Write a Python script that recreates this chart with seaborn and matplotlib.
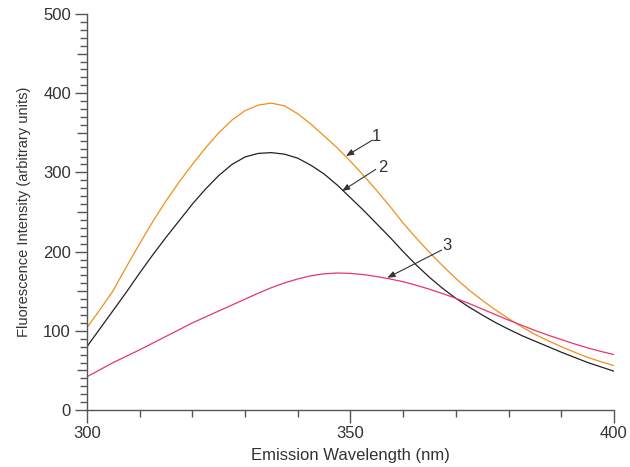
import numpy as np
import pandas as pd
import matplotlib
matplotlib.use("Agg")
import matplotlib.pyplot as plt
import seaborn as sns

# ---- data ----
wavelength = [300, 302.5, 305, 307.5, 310, 312.5, 315, 317.5, 320, 322.5, 325, 327.5,
              330, 332.5, 335, 337.5, 340, 342.5, 345, 347.5, 350, 352.5, 355, 357.5,
              360, 362.5, 365, 367.5, 370, 372.5, 375, 377.5, 380, 382.5, 385, 387.5,
              390, 392.5, 395, 397.5, 400]
curve1 = [104, 127, 151, 181, 210, 238, 264, 288, 310, 331, 350, 366,
          378, 385, 387.5, 384, 374, 361, 346, 331, 314, 296, 277, 257,
          236, 217, 199, 182, 166, 151.5, 138.5, 126.5, 115.5, 105, 95.5, 87.5,
          80, 73, 66.5, 61, 56]
curve2 = [80, 103, 126, 149, 173, 196, 218, 239, 260, 279, 296, 310,
          319.5, 324, 325, 323, 318, 309, 298, 284, 268, 252, 235, 218,
          200, 183, 167.5, 153.5, 141, 130, 120, 110.5, 102, 94, 87, 80,
          73, 66.5, 60, 54.5, 49]
curve3 = [42, 51, 60, 68, 76, 84.5, 93, 101.5, 110, 117.5, 125, 132.5,
          140, 147.5, 154.5, 160.5, 165.5, 169.5, 172, 173, 172.5, 171, 168.5, 165.5,
          162, 157.5, 152.5, 147, 141, 134.5, 127.5, 120.5, 113.5, 107, 100.5, 94.5,
          89, 83.5, 78.5, 74, 70]
series_labels = ["1", "2", "3"]
series_colors = ["#f28e1c", "#222222", "#e6366b"]

# annotation: text position, arrow tail, arrow tip (data coords)
label_xy = [(355.0, 345.1), (356.2, 306.4), (368.25, 208.3)]
arrow_tail = [(354.2, 340.9), (354.8, 303.9), (367.3, 202.0)]
arrow_tip = [(349.15, 320.7), (348.4, 276.5), (357.0, 167.0)]

xticks_major = [300, 350, 400]
yticks_major = [0, 100, 200, 300, 400, 500]

# ---- build long table ----
df = pd.concat([
    pd.DataFrame({"wl": wavelength, "val": vals, "series": lab})
    for vals, lab in zip([curve1, curve2, curve3], series_labels)
])

sns.set_style("ticks")
plt.rcParams["font.family"] = ["Liberation Sans", "DejaVu Sans"]

fig = plt.figure(figsize=(6.3, 4.67), dpi=100)
ax = fig.add_axes([0.138, 0.122, 0.8366, 0.848])

sns.lineplot(data=df, x="wl", y="val", hue="series", palette=series_colors,
             hue_order=series_labels, ax=ax, legend=False, linewidth=0.9,
             estimator=None, sort=True)

ax.set_xlim(300, 400)
ax.set_ylim(0, 500)
ax.set_xticks(xticks_major)
ax.set_yticks(yticks_major)
ax.set_xticks(np.arange(310, 400, 10), minor=True)
ax.set_yticks([v for v in range(10, 500, 10) if v % 50 != 0], minor=True)

axis_col = "#555555"
txt_col = "#333333"
for s in ["top", "right"]:
    ax.spines[s].set_visible(False)
for s in ["left", "bottom"]:
    ax.spines[s].set_color(axis_col)
    ax.spines[s].set_linewidth(1.0)

ax.tick_params(axis="both", which="major", length=9, width=1.0, color=axis_col,
               labelsize=12, labelcolor=txt_col, direction="out", pad=2.5)
ax.tick_params(axis="both", which="minor", length=5, width=1.0, color=axis_col,
               direction="out")

# mid-length ticks at the 50s on y axis
sec = ax.secondary_yaxis("left")
sec.set_yticks([50, 150, 250, 350, 450])
sec.set_yticklabels([])
sec.tick_params(length=7, width=1.0, color=axis_col)
sec.spines["left"].set_visible(False)

ax.set_xlabel("Emission Wavelength (nm)", fontsize=12, color=txt_col, labelpad=5)
ax.set_ylabel("Fluorescence Intensity (arbitrary units)", fontsize=10.5,
              color=txt_col, labelpad=9)

for lab, pos, tail, tip in zip(series_labels, label_xy, arrow_tail, arrow_tip):
    ax.text(pos[0], pos[1], lab, fontsize=12, color=txt_col, ha="center", va="center")
    ax.annotate("", xy=tip, xytext=tail,
                arrowprops=dict(arrowstyle="-|>,head_length=0.45,head_width=0.18",
                                color="#333333", lw=0.8, shrinkA=0, shrinkB=0))

fig.savefig("out.png", dpi=100)
